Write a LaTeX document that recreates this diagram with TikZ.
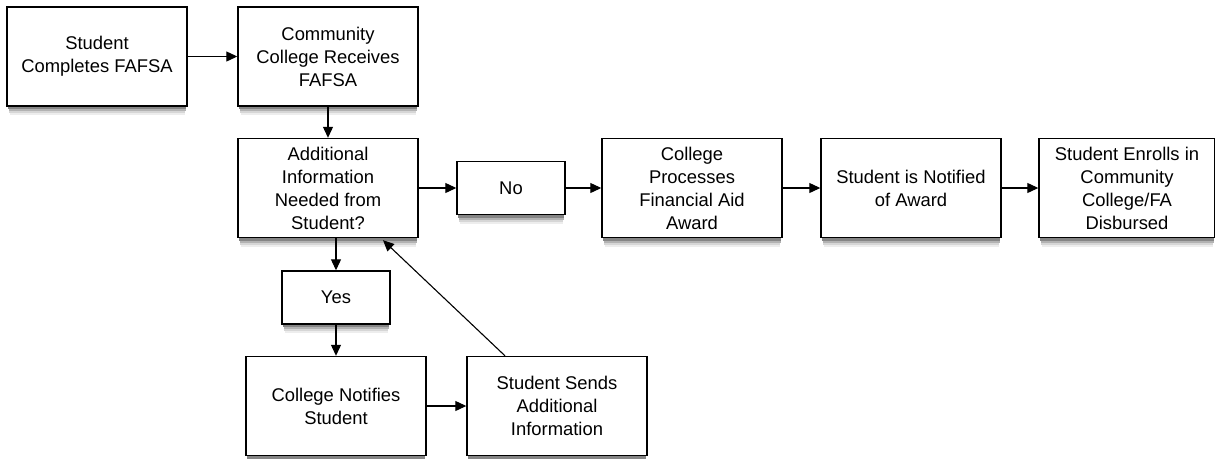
\documentclass[tikz,border=0pt]{standalone}
\usepackage{fontspec}
\setmainfont{Liberation Sans}
\usetikzlibrary{arrows.meta}

\begin{document}
\begin{tikzpicture}[>={Triangle[length=11pt,width=10pt]},line width=1.1pt,
  main node/.style={rectangle,draw,fill=white,line width=1.4pt,minimum width=180pt,minimum height=99pt,align=center,inner sep=1pt,
    font=\fontsize{18.4}{23}\selectfont},
  answer node/.style={main node,minimum width=108pt,minimum height=53pt}]

  \useasboundingbox (0,0) rectangle (1215pt,-458pt);

  % soft shadows under the boxes (centre x / centre y / half width / half height)
  \foreach \x/\y/\w/\h in {97/-56.5/90/49.5, 328/-56.5/90/49.5, 328/-188/90/49.5, 511/-188/54/26.5,
                           692/-188/90/49.5, 911/-188/90/49.5, 1127/-188/88/49.5, 336/-297.5/54/26.5,
                           336/-406/90/49.5, 557/-406/90/49.5}
    \foreach \d/\i/\g in {9/2.5/7, 7/2/16, 5/1.5/30, 3/1/48}
      \fill[black!\g] ({(\x-\w+\i)*1pt},{(\y-\h-\d)*1pt}) rectangle ({(\x+\w-\i)*1pt},{(\y+\h-\d)*1pt});

  \node[main node] (1) at (97pt,-56.5pt) {Student\\Completes FAFSA};
  \node[main node] (2) at (328pt,-56.5pt) {Community\\College Receives\\FAFSA};
  \node[main node] (3) at (328pt,-188pt) {Additional\\Information\\Needed from\\Student?};
  \node[answer node] (7) at (511pt,-188pt) {No};
  \node[main node] (8) at (692pt,-188pt) {College\\Processes\\Financial Aid\\Award};
  \node[main node] (9) at (911pt,-188pt) {Student is Notified\\of Award};
  \node[main node,minimum width=176pt] (10) at (1127pt,-188pt) {Student Enrolls in\\Community\\College/FA\\Disbursed};
  \node[answer node] (4) at (336pt,-297.5pt) {Yes};
  \node[main node] (5) at (336pt,-406pt) {College Notifies\\Student};
  \node[main node] (6) at (557pt,-406pt) {Student Sends\\Additional\\Information};

  \begin{scope}[->]
    \draw (1) -- (2);
    \draw (2) -- (3);
    \draw (3.south -| 4.north) -- (4);
    \draw (4) -- (5);
    \draw (5) -- (6);
    \draw ([xshift=-52pt]6.north) -- ([xshift=55pt,yshift=-2pt]3.south);
    \draw (3) -- (7);
    \draw (7) -- (8);
    \draw (8) -- (9);
    \draw (9) -- (10);
  \end{scope}
\end{tikzpicture}
\end{document}
